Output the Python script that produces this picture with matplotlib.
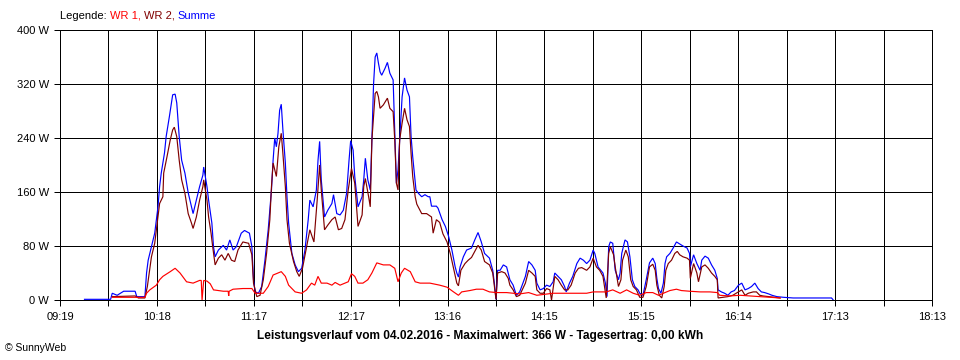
import matplotlib
matplotlib.use("Agg")
import matplotlib.pyplot as plt
import numpy as np

# ---------------- data (time in minutes since midnight, power in W) -------------
x_tick_labels = ["09:19", "10:18", "11:17", "12:17", "13:16", "14:15",
                 "15:15", "16:14", "17:13", "18:13"]
y_tick_values = [0, 80, 160, 240, 320, 400]
y_tick_labels = ["0 W", "80 W", "160 W", "240 W", "320 W", "400 W"]
t_start, t_end = 559, 1093

summe_t = [574, 590, 591, 594, 598, 605, 606, 611, 612, 613, 615, 617, 619, 620, 621, 623, 624, 626, 628,
           629.5, 630.5, 632, 633.5, 635.5, 637.5, 639.5, 640.5, 642.5, 644.5, 646.5, 647, 649, 650, 652,
           653, 654, 656, 659, 661, 663, 665, 667, 670, 672, 675, 676.5, 677.5, 678.5, 680.5, 682.5, 684.5,
           686.5, 688.5, 689.5, 690.5, 691.5, 692.5, 693.5, 694.5, 695.5, 697, 698, 699, 701, 703, 705, 707,
           709, 711, 712, 714, 716, 717, 718, 719, 721, 723, 725.5, 726.5, 728.5, 730.5, 732.5, 734.5, 736,
           737, 738.5, 739.5, 741.5, 744, 745, 746, 747.5, 749, 750, 751, 752, 753, 754, 755, 756, 758,
           759.5, 761, 763, 764, 765, 766, 767, 768.5, 770, 771.5, 773, 774, 775, 776, 777, 778.5, 780.5,
           782.5, 784.5, 785.5, 786.5, 789.5, 790.5, 793, 795, 797, 799, 801, 802, 803, 804, 806, 808, 811,
           813, 815, 817, 819, 822, 824, 825, 826, 827, 828.5, 830.5, 832.5, 834.5, 836.5, 838.5, 840.5,
           844, 846, 848, 850, 851, 853, 855, 857, 859, 861, 862, 864, 866, 868, 869, 871, 873, 875.5,
           877.5, 879.5, 881.5, 883.5, 885.5, 886.5, 888.5, 891.5, 893, 894, 895, 896, 897.5, 899, 901,
           902, 903, 905, 906.5, 908, 909.5, 911, 913, 914, 916, 918, 920, 922, 923.5, 924.5, 925.5, 927,
           928.5, 929.5, 930.5, 932.5, 934.5, 936.5, 938.5, 940.5, 943, 944.5, 945, 947, 949, 951, 952,
           954, 956, 958, 960, 961.5, 962, 964, 966, 968, 970, 972, 974.5, 976.5, 978.5, 980.5, 982.5,
           984.5, 986.5, 988.5, 990.5, 993, 995, 998, 1002, 1008, 1024, 1031.5, 1032.5]
summe_w = [1, 1, 10, 7, 13, 13, 5, 5, 40, 59, 79, 99, 138, 168, 188, 218, 242, 272, 304,
           305, 292, 242, 207, 188, 159, 138, 128, 148, 168, 185, 197, 168, 148, 114,
           79, 64, 74, 81, 74, 89, 74, 79, 99, 103, 99, 79, 30, 12, 10, 20, 59,
           104, 163, 207, 240, 227, 247, 281, 290, 252, 203, 153, 114, 69, 52, 42, 47,
           74, 119, 148, 138, 163, 207, 235, 178, 123, 133, 143, 156, 128, 126, 133, 158, 207,
           236, 222, 183, 138, 153, 178, 210, 178, 163, 237, 319, 360, 366, 351, 338, 333, 343,
           352, 336, 326, 252, 173, 193, 237, 301, 329, 311, 301, 242, 212, 188, 163, 158, 153,
           156, 153, 153, 139, 139, 136, 119, 109, 94, 74, 49, 40, 34, 49, 64, 74, 77,
           89, 100, 86, 69, 62, 44, 25, 1, 44, 44, 52, 49, 30, 22, 7, 12,
           35, 57, 52, 44, 25, 15, 17, 22, 20, 27, 40, 35, 30, 20, 12, 25, 35, 54,
           62, 59, 54, 59, 74, 69, 49, 40, 25, 5, 79, 86, 84, 44, 30,
           40, 69, 89, 86, 64, 30, 20, 15, 10, 7, 30, 55, 62, 54, 32, 17, 10,
           25, 54, 64, 69, 77, 86, 83, 80, 77, 69, 49, 67, 54, 44, 59,
           65, 62, 52, 44, 32, 15, 12, 10, 7, 12, 14, 22, 25, 15, 17, 20,
           25, 17, 12, 11, 9, 7, 5, 4, 3, 3, 3, 0]

wr2_t = [591, 605, 607, 611, 612.5, 615, 617, 618.5, 620, 622, 622.5, 624.5, 626.5, 628, 629, 630.5, 632,
         633.5, 635.5, 637.5, 639.5, 640.5, 642.5, 644.5, 646.5, 647, 649, 650, 651.5, 652.5, 654, 656,
         658, 660, 662, 664, 666, 668, 671, 674.5, 676.5, 677.5, 679.5, 681.5, 683.5, 685.5, 687.5, 688.5,
         689.5, 690.5, 691.5, 693, 694.5, 695.5, 697, 698, 699.5, 702, 704, 705.5, 707.5, 710, 712, 714.5,
         716.5, 718, 719, 721, 723, 725.5, 727.5, 729.5, 731.5, 733.5, 735.5, 737.5, 739.5, 741.5, 744,
         745, 746, 748, 749, 750, 751, 752, 753, 754, 755, 757, 759.5, 761, 763, 764, 765, 766, 767,
         768.5, 770, 771.5, 773, 774, 775, 776.5, 777.5, 780.5, 783.5, 786.5, 787.5, 789.5, 791.5, 793.5,
         796, 798, 800, 802, 803, 804.5, 807, 809, 811, 813, 815, 817, 819, 822, 824, 825, 826, 827,
         829.5, 831.5, 833.5, 834.5, 836.5, 838.5, 840.5, 844, 846, 848, 850, 851, 853, 855, 857, 859,
         860, 862, 864, 866, 868, 870, 872, 874.5, 876.5, 878.5, 881.5, 883.5, 885.5, 887.5, 889.5, 891.5,
         893.5, 895, 896, 898, 899, 901, 902.5, 903.5, 905.5, 907, 908.5, 910, 912, 914, 916, 918, 920,
         922, 923.5, 924.5, 926, 927.5, 929, 930, 931.5, 933.5, 935.5, 937, 938.5, 940.5, 943, 944.5, 945,
         947, 949, 950, 952, 954, 956, 958, 960, 961.5, 962, 965, 968, 971, 974.5, 976.5, 978.5, 980.5,
         983.5, 985.5, 987.5, 989.5, 993, 996, 1000]
wr2_w = [5, 6, 3, 3, 20, 64, 84, 114, 143, 153, 188, 212, 237, 252, 256, 242, 207,
         178, 158, 128, 114, 106, 123, 148, 168, 178, 148, 123, 99, 79, 52, 62,
         67, 59, 69, 59, 57, 74, 86, 84, 67, 25, 5, 7, 30, 69, 119, 168,
         203, 193, 183, 227, 247, 217, 168, 119, 84, 57, 42, 35, 47, 79, 104, 86,
         148, 200, 163, 104, 111, 119, 123, 104, 106, 119, 163, 195, 173, 109, 126,
         168, 180, 153, 138, 237, 272, 306, 309, 301, 284, 289, 299, 284, 279, 237, 173, 163, 237,
         262, 284, 267, 257, 217, 183, 153, 142, 128, 128, 123, 99, 119, 115, 98,
         86, 69, 47, 25, 21, 44, 54, 59, 63, 72, 81, 74, 57, 52, 40, 20, 1, 40,
         42, 40, 32, 22, 15, 5, 7, 25, 44, 40, 35, 15, 10, 10, 17, 15,
         0, 35, 30, 22, 15, 15, 22, 40, 47, 48, 44, 49, 62, 49, 44, 35,
         3, 69, 79, 67, 49, 20, 30, 59, 74, 64, 30, 20, 15, 4, 4, 20, 49,
         53, 44, 22, 7, 3, 20, 44, 54, 59, 69, 72, 67, 64, 62, 59, 32,
         54, 40, 27, 49, 52, 47, 40, 35, 30, 3, 4, 5, 7, 12, 15, 7, 10,
         12, 12, 7, 6, 5, 4, 3]

wr1_t = [591, 611, 612, 614, 618, 620, 622, 626.5, 629.5, 632.5, 636.5, 640.5, 644.5, 645.5, 646, 647,
         649, 651, 653, 659, 662, 662.3, 662.6, 665, 671, 676.5, 678.5, 683.5, 686.5, 689.5, 694.5, 697,
         699, 703, 707, 710, 713, 715, 717, 719, 722.5, 725.5, 727.5, 730.5, 733.5, 735.5, 737.5, 739.5,
         741.5, 744.5, 747.5, 750, 753, 757, 761, 764, 766, 768, 770, 773.5, 776.5, 779.5, 785.5, 791.5,
         796, 800, 803, 805, 810, 814, 818, 822, 826.5, 832.5, 840.5, 846, 851, 861, 873.5, 881.5, 885.5,
         893.5, 897.5, 902, 906, 910, 914, 918, 922, 925.5, 928.5, 932.5, 936.5, 939.5, 944.5, 951, 957,
         961.5, 963, 969, 975.5, 981.5, 987.5, 994, 1000]
wr1_w = [4, 4, 10, 15, 22, 30, 35, 42, 47, 40, 27, 25, 29, 29, 0, 29,
         28, 24, 15, 13, 13, 6, 13, 16, 17, 17, 10, 10, 20, 37, 42, 35,
         22, 12, 10, 15, 25, 22, 35, 25, 25, 22, 26, 22, 25, 27, 39, 35,
         25, 25, 30, 40, 55, 52, 52, 47, 27, 40, 47, 42, 27, 25, 25, 22,
         19, 12, 7, 12, 14, 16, 16, 12, 11, 11, 9, 11, 7, 10, 10, 10, 12,
         12, 15, 10, 15, 10, 7, 11, 11, 7, 10, 14, 16, 14, 13, 12, 12,
         11, 7, 6, 7, 6, 5, 4, 3]

series = [("Summe", summe_t, summe_w, "#0000ff"),
          ("WR 2", wr2_t, wr2_w, "#800000"),
          ("WR 1", wr1_t, wr1_w, "#ff0000")]

# ---------------- figure ----------------
plt.rcParams["font.family"] = ["Liberation Sans", "DejaVu Sans"]
fig = plt.figure(figsize=(9.6, 3.6), dpi=100)
fig.patch.set_facecolor("white")
ax = fig.add_axes([60 / 960, 60 / 360, 872 / 960, 270 / 360])

LW = 0.72  # one pixel at 100 dpi
for name, t, w, c in series:
    ax.plot(t, w, color=c, lw=0.85, antialiased=True, solid_joinstyle="miter")

ax.set_xlim(t_start, t_end)
ax.set_ylim(0, 400)

major = np.linspace(t_start, t_end, len(x_tick_labels))
minor = (major[:-1] + major[1:]) / 2
ax.set_xticks(major)
ax.set_xticklabels(x_tick_labels)
ax.set_xticks(minor, minor=True)
ax.set_yticks(y_tick_values)
ax.set_yticklabels(y_tick_labels)

ax.grid(True, which="both", axis="x", color="black", lw=LW, antialiased=False)
ax.grid(True, which="major", axis="y", color="black", lw=LW, antialiased=False)
ax.set_axisbelow(True)
for s in ax.spines.values():
    s.set_color("black")
    s.set_linewidth(LW)
    s.set_antialiased(False)

ax.tick_params(axis="x", which="both", direction="out", length=4, width=LW,
               labelsize=8, pad=5, color="black")
ax.tick_params(axis="y", which="both", direction="out", length=4, width=LW,
               labelsize=8, pad=4, color="black")

# title / caption
fig.text(0.5, (360 - 336) / 360, "Leistungsverlauf vom 04.02.2016 - Maximalwert: 366 W - Tagesertrag: 0,00 kWh",
         ha="center", va="center", fontsize=8.6, fontweight="bold")
fig.text(5 / 960, (360 - 348) / 360, "© SunnyWeb", ha="left", va="center", fontsize=7.5)

# multi-coloured legend line
renderer = fig.canvas.get_renderer()
parts = [("Legende: ", "black"), ("WR 1, ", "#ff0000"), ("WR 2, ", "#800000"), ("Summe", "#0000ff")]
x_px = 60
for txt, col in parts:
    tt = fig.text(x_px / 960, (360 - 16) / 360, txt, color=col, fontsize=8, ha="left", va="center")
    bb = tt.get_window_extent(renderer=renderer)
    x_px += bb.width

fig.savefig("out.png", dpi=100, facecolor="white")
